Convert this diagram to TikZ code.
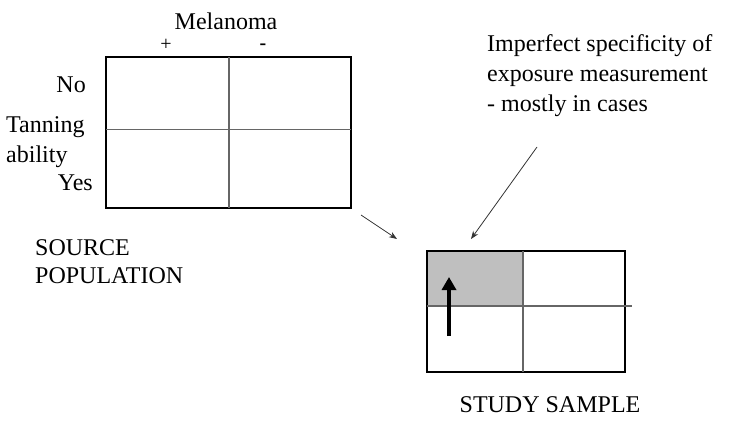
\documentclass[tikz,border=0pt]{standalone}
\usepackage{fontspec}
\setmainfont{Liberation Serif}
\usetikzlibrary{arrows.meta}
\begin{document}
\begin{tikzpicture}[x=1pt,y=-1pt,
  lbl/.style={inner sep=0pt,font=\fontsize{24}{28}\selectfont},
  sign/.style={inner sep=0pt,font=\fontsize{20}{22}\selectfont},
  outer/.style={draw=black,line width=1.2pt},
  inner/.style={draw=black!60,line width=1.2pt},
  thinarrow/.style={draw=black!80,line width=0.8pt,-{Stealth[length=8pt,width=6pt]}},
  fatarrow/.style={draw=black,line width=4pt,-{Triangle[length=13pt,width=14pt]}}]
\useasboundingbox (0,0) rectangle (729,428);
% source population table
\draw[outer] (106,57) rectangle (351,208);
\draw[inner] (106,129.5) -- (351,129.5);
\draw[inner] (229,57) -- (229,208);
% study sample table
\fill[black!25] (427,251) rectangle (523,306);
\draw[outer] (427,251) rectangle (625,372);
\draw[inner] (427,306) -- (632,306);
\draw[inner] (523,251) -- (523,372);
% labels
\node[lbl,anchor=base] (mel) at (226,30) {Melanoma};
\node[sign,anchor=base] (plus) at (166,51) {+};
\node[sign,anchor=base] (minus) at (263,50) {\textbf{-}};
\node[lbl,anchor=base east] (no) at (86,93) {No};
\node[lbl,anchor=base west] (tan) at (6,132) {Tanning};
\node[lbl,anchor=base west] (abil) at (6,162) {ability};
\node[lbl,anchor=base east] (yes) at (93,190) {Yes};
\node[lbl,anchor=base west] (src1) at (35,255) {SOURCE};
\node[lbl,anchor=base west] (src2) at (35,283) {POPULATION};
\node[lbl,anchor=base west] (imp1) at (487,52) {Imperfect specificity of};
\node[lbl,anchor=base west] (imp2) at (487,82) {exposure measurement};
\node[lbl,anchor=base west] (imp3) at (487,112) {- mostly in cases};
\node[lbl,anchor=base] (study) at (550,412) {STUDY SAMPLE};
% arrows
\coordinate (a1s) at (361,215);
\coordinate (a1e) at (397,239);
\coordinate (a2s) at (537,147);
\coordinate (a2e) at (471,239);
\coordinate (bs) at (449,336);
\coordinate (be) at (449,277);
\draw[thinarrow] (a1s) -- (a1e);
\draw[thinarrow] (a2s) -- (a2e);
\draw[fatarrow] (bs) -- (be);
\end{tikzpicture}
\end{document}
